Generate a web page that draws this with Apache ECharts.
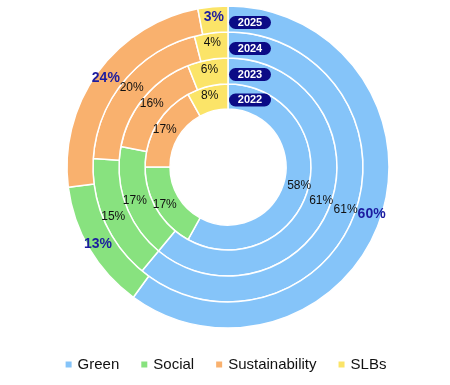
<!DOCTYPE html>
<html><head><meta charset="utf-8">
<script src="https://cdn.jsdelivr.net/npm/echarts@6/dist/echarts.min.js"></script>
<style>html,body{margin:0;padding:0;background:#fff}#c{width:450px;height:385px}</style>
</head><body><div id="c"></div>
<script>
const categories = ['Green', 'Social', 'Sustainability', 'SLBs'];
const years = ['2022', '2023', '2024', '2025'];
const green = [58, 61, 61, 60];
const social = [17, 17, 15, 13];
const sustainability = [17, 16, 20, 24];
const slbs = [8, 6, 4, 3];

const colors = ['#85C4F9', '#88E27F', '#F9B16E', '#FBE468'];
const rings = [[58, 83], [83, 109], [109, 135], [135, 161]];
const cx = 228, cy = 167;
const FONT = 'Liberation Sans';

const chart = echarts.init(document.getElementById('c'));
const series = years.map((y, i) => {
  const outer = i === years.length - 1;
  return {
    type: 'pie',
    name: y,
    center: [cx, cy],
    radius: rings[i],
    startAngle: 90,
    clockwise: true,
    avoidLabelOverlap: false,
    silent: true,
    itemStyle: { borderColor: '#fff', borderWidth: 1.5 },
    label: {
      show: true, position: 'inside', formatter: '{c}%',
      fontFamily: FONT,
      fontSize: outer ? 14 : 12,
      fontWeight: outer ? 'bold' : 'normal',
      color: outer ? '#1c1ca0' : '#111'
    },
    labelLayout: { hideOverlap: false },
    labelLine: { show: false },
    data: categories.map((c, k) => ({
      name: c,
      value: [green, social, sustainability, slbs][k][i],
      itemStyle: { color: colors[k] }
    }))
  };
});

const graphics = years.map((y, i) => {
  const rm = (rings[i][0] + rings[i][1]) / 2;
  return {
    type: 'group', x: 250, y: cy - rm + 3.5, z: 100, zlevel: 1,
    children: [
      { type: 'rect', z: 100, shape: { x: -21, y: -6.5, width: 42, height: 13, r: 6.5 }, style: { fill: '#0b0b86' } },
      { type: 'text', z: 101, style: { text: y, x: 0, y: 0, align: 'center', verticalAlign: 'middle', fill: '#fff', font: 'bold 11px ' + FONT } }
    ]
  };
});

chart.setOption({
  animation: false,
  color: colors,
  legend: {
    data: categories,
    bottom: 8,
    left: 'center',
    icon: 'rect',
    itemWidth: 8, itemHeight: 8,
    itemGap: 20,
    textStyle: { fontFamily: FONT, fontSize: 15, color: '#111' }
  },
  series: series,
  graphic: { elements: graphics }
});
</script></body></html>
